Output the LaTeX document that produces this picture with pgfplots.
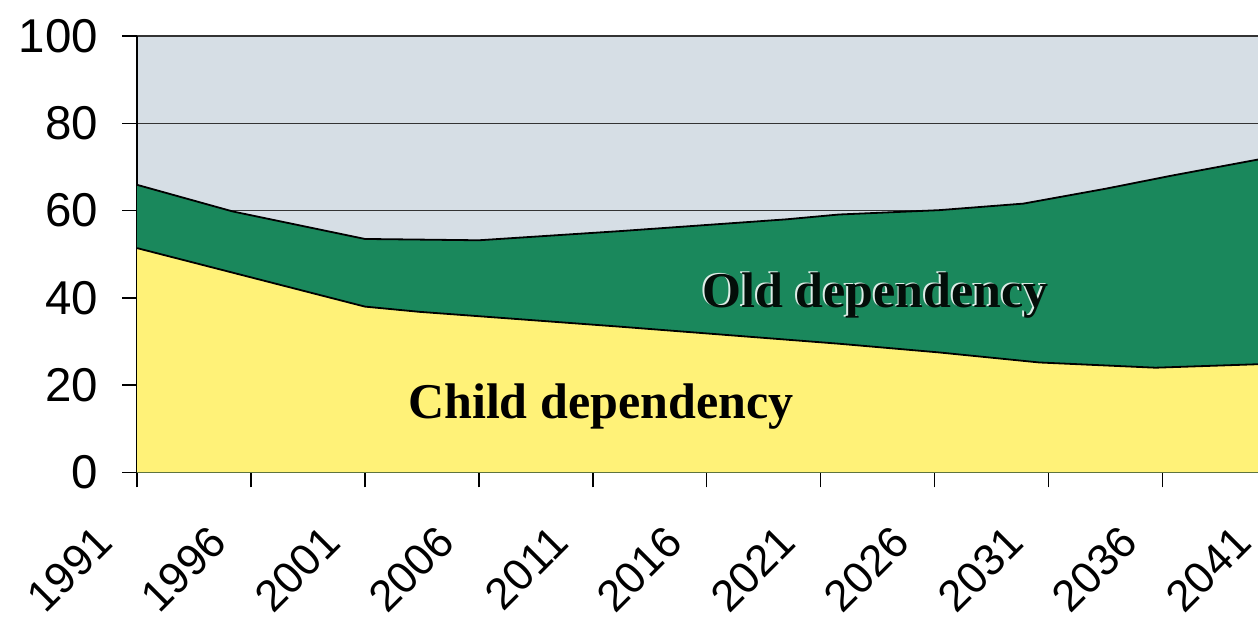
\documentclass[border=0pt]{standalone}
\usepackage{fontspec}
\setmainfont{Liberation Sans}
\newfontfamily\labelserif{Liberation Serif}
\usepackage{pgfplots}
\usepackage{pgfplotstable}
\pgfplotsset{compat=1.18}

\definecolor{childfill}{RGB}{255,242,120}
\definecolor{oldfill}{RGB}{26,136,92}
\definecolor{restfill}{RGB}{214,222,229}

% total dependency ratio (child + old)
\pgfplotstableread{
year   total
1991   65.9
1995.2 59.8
2001   53.5
2006   53.2
2012.2 55.3
2019.5 58.0
2021.8 59.1
2026.2 60.1
2029.9 61.6
2033.5 65.0
2036.4 68.0
2040.2 71.7
2041   72.5
}\totaldep

% child dependency ratio
\pgfplotstableread{
year   child
1991   51.4
2001   38.0
2003.4 36.8
2006   35.8
2012.2 33.4
2021.8 29.5
2026.2 27.5
2030.6 25.2
2035.7 24.0
2040.2 24.8
2041   25.0
}\childdep

\begin{document}
\begin{tikzpicture}
\begin{axis}[
  scale only axis,
  width=569pt, height=218pt,
  xmin=1991, xmax=2041, ymin=0, ymax=100,
  axis lines*=left,
  axis line style={black, line width=0.8pt},
  xtick={1991,1996,2001,2006,2011,2016,2021,2026,2031,2036,2041},
  xticklabels={1991,1996,2001,2006,2011,2016,2021,2026,2031,2036,2041},
  ytick={0,20,40,60,80,100},
  yticklabels={0,20,40,60,80,100},
  tick align=outside,
  major tick length=7.5pt,
  tick style={black, line width=0.8pt},
  ymajorgrids,
  major grid style={draw=black!80, line width=0.7pt},
  axis background/.style={fill=restfill},
  yticklabel style={font=\fontsize{23.7}{28}\selectfont, xshift=-8.5pt},
  xticklabel style={font=\fontsize{22}{26}\selectfont,
                    xshift=-14pt, yshift=-21pt, rotate=45, anchor=east},
]
\addplot[draw=none, fill=oldfill] table[x=year, y=total] {\totaldep} \closedcycle;
\addplot[draw=none, fill=childfill] table[x=year, y=child] {\childdep} \closedcycle;
\addplot[black, line width=0.9pt] table[x=year, y=total] {\totaldep};
\addplot[black, line width=0.9pt] table[x=year, y=child] {\childdep};

\node[font=\labelserif\bfseries\fontsize{25}{30}\selectfont, text=white!85!oldfill]
  at ([shift={(-0.7pt,0.7pt)}]axis cs:2023.4,40.5) {Old dependency};
\node[font=\labelserif\bfseries\fontsize{25}{30}\selectfont, text=black!90!oldfill]
  at (axis cs:2023.4,40.5) {Old dependency};
\node[font=\labelserif\bfseries\fontsize{25}{30}\selectfont, text=black]
  at (axis cs:2011.35,15.2) {Child dependency};

\coordinate (o) at (axis cs:1991,0);
\coordinate (c) at (axis cs:2040.2,100);
\end{axis}
\pgfresetboundingbox
\useasboundingbox ([shift={(-68.5pt,-78.5pt)}]o) rectangle ([yshift=18pt]c);
\end{tikzpicture}
\end{document}
